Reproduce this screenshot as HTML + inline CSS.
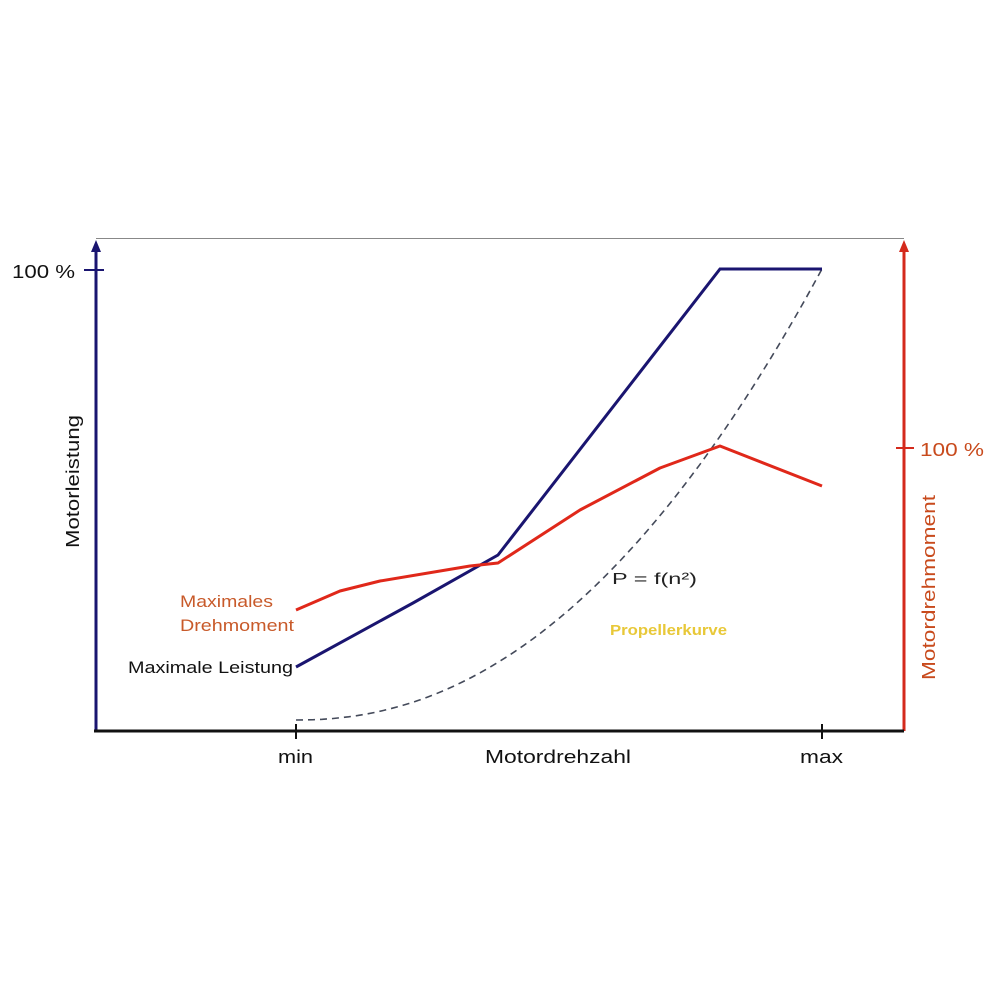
<!DOCTYPE html>
<html><head><meta charset="utf-8"><style>body{margin:0;background:#fff}svg{display:block}</style></head>
<body>
<svg width="1000" height="1000" viewBox="0 0 1000 1000" xmlns="http://www.w3.org/2000/svg" font-family="Liberation Sans, sans-serif">
<rect width="1000" height="1000" fill="#fff"/>
<line x1="96" y1="238.5" x2="904" y2="238.5" stroke="#888" stroke-width="1"/>
<line x1="96" y1="731" x2="96" y2="250" stroke="#1a1570" stroke-width="3"/>
<polygon points="96,240 91,252 101,252" fill="#1a1570"/>
<line x1="84" y1="270" x2="104" y2="270" stroke="#1a1570" stroke-width="2"/>
<line x1="904" y1="731" x2="904" y2="250" stroke="#d42a1c" stroke-width="3"/>
<polygon points="904,240 899,252 909,252" fill="#d42a1c"/>
<line x1="896" y1="448" x2="914" y2="448" stroke="#d42a1c" stroke-width="2"/>
<line x1="94" y1="731" x2="904" y2="731" stroke="#111" stroke-width="3"/>
<line x1="296" y1="724" x2="296" y2="739" stroke="#111" stroke-width="2"/>
<line x1="822" y1="724" x2="822" y2="739" stroke="#111" stroke-width="2"/>
<path id="dash" d="" fill="none" stroke="#444a5a" stroke-width="1.6" stroke-dasharray="7,5"/>
<polyline points="296,667 413,603 498,555 720,269 822,269" fill="none" stroke="#1a1570" stroke-width="3"/>
<polyline points="296,610 340,591 380,581 470,566 498,563 580,510 660,468 720,446 822,486" fill="none" stroke="#e0281a" stroke-width="3" stroke-linejoin="round"/>
<g lengthAdjust="spacingAndGlyphs">
<text x="12" y="278" font-size="18" fill="#111" textLength="63" lengthAdjust="spacingAndGlyphs">100 %</text>
<text x="920" y="456" font-size="18" fill="#c84a1c" textLength="64" lengthAdjust="spacingAndGlyphs">100 %</text>
<text x="0" y="0" font-size="18" fill="#111" transform="translate(79,548) rotate(-90)" textLength="133" lengthAdjust="spacingAndGlyphs">Motorleistung</text>
<text x="0" y="0" font-size="18" fill="#c84a1c" transform="translate(935,680) rotate(-90)" textLength="185" lengthAdjust="spacingAndGlyphs">Motordrehmoment</text>
<text x="278" y="763" font-size="18" fill="#111" textLength="35" lengthAdjust="spacingAndGlyphs">min</text>
<text x="800" y="763" font-size="18" fill="#111" textLength="43" lengthAdjust="spacingAndGlyphs">max</text>
<text x="485" y="763" font-size="18" fill="#111" textLength="146" lengthAdjust="spacingAndGlyphs">Motordrehzahl</text>
<text x="180" y="607" font-size="17" fill="#c85a2a" textLength="93" lengthAdjust="spacingAndGlyphs">Maximales</text>
<text x="180" y="631" font-size="17" fill="#c85a2a" textLength="114" lengthAdjust="spacingAndGlyphs">Drehmoment</text>
<text x="128" y="673" font-size="17" fill="#111" textLength="165" lengthAdjust="spacingAndGlyphs">Maximale Leistung</text>
<text x="612" y="584" font-size="16" fill="#222" textLength="85" lengthAdjust="spacingAndGlyphs">P = f(n²)</text>
<text x="610" y="635" font-size="15" fill="#e8c838" font-weight="bold" textLength="117" lengthAdjust="spacingAndGlyphs">Propellerkurve</text>
</g>
</svg>
<script>
var d="";for(var i=0;i<=60;i++){var t=i/60;var x=296+526*t;var y=720-451*Math.pow(t,2.15);d+=(i?"L":"M")+x.toFixed(1)+","+y.toFixed(1);}
document.getElementById("dash").setAttribute("d",d);
</script>
</body></html>
